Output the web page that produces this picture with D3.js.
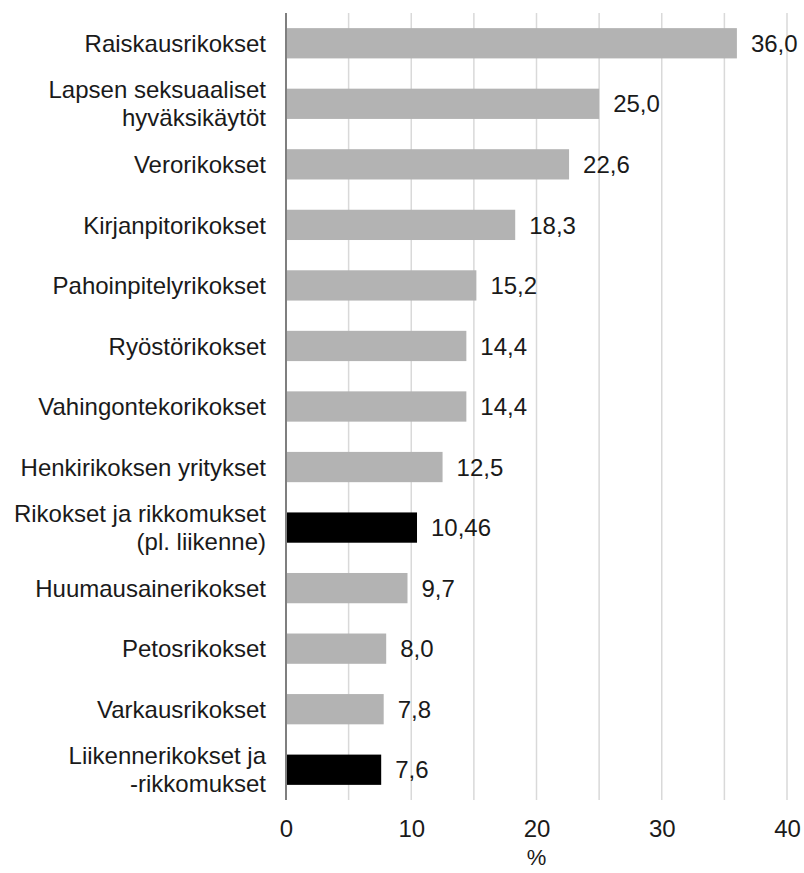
<!DOCTYPE html>
<html><head><meta charset="utf-8">
<script src="https://cdn.jsdelivr.net/npm/d3@7"></script>
<style>body{margin:0;background:#fff}</style>
</head><body>
<svg id="c" width="804" height="873"></svg>
<script>
const categories = [
  ["Raiskausrikokset"],
  ["Lapsen seksuaaliset","hyväksikäytöt"],
  ["Verorikokset"],
  ["Kirjanpitorikokset"],
  ["Pahoinpitelyrikokset"],
  ["Ryöstörikokset"],
  ["Vahingontekorikokset"],
  ["Henkirikoksen yritykset"],
  ["Rikokset ja rikkomukset","(pl. liikenne)"],
  ["Huumausainerikokset"],
  ["Petosrikokset"],
  ["Varkausrikokset"],
  ["Liikennerikokset ja","-rikkomukset"]
];
const values = [36.0, 25.0, 22.6, 18.3, 15.2, 14.4, 14.4, 12.5, 10.46, 9.7, 8.0, 7.8, 7.6];
const valueLabels = ["36,0","25,0","22,6","18,3","15,2","14,4","14,4","12,5","10,46","9,7","8,0","7,8","7,6"];
const highlighted = [false,false,false,false,false,false,false,false,true,false,false,false,true];
const xTicks = [0,10,20,30,40];
const gridTicks = [5,10,15,20,25,30,35,40];
const xTitle = "%";

const svg = d3.select("#c");
const font = "'Liberation Sans', Arial, sans-serif";
const fs = 24;
const x = d3.scaleLinear().domain([0,40]).range([286,787]);
const y = d3.scaleBand().domain(d3.range(categories.length)).range([13,800]).paddingInner(0.5).paddingOuter(0.25);

// grid
svg.append("g").selectAll("line").data(gridTicks).join("line")
  .attr("x1",d=>x(d)).attr("x2",d=>x(d)).attr("y1",13).attr("y2",800)
  .attr("stroke","#d9d9d9").attr("stroke-width",1.5);

// bars
svg.append("g").selectAll("rect").data(values).join("rect")
  .attr("x",x(0)).attr("y",(d,i)=>y(i)).attr("width",d=>x(d)-x(0)).attr("height",y.bandwidth())
  .attr("fill",(d,i)=>highlighted[i]?"#000":"#b3b3b3");

// axis line
svg.append("line").attr("x1",x(0)).attr("x2",x(0)).attr("y1",13).attr("y2",800)
  .attr("stroke","#7f7f7f").attr("stroke-width",2);

// value labels
svg.append("g").selectAll("text").data(values).join("text")
  .attr("x",d=>x(d)+14).attr("y",(d,i)=>y(i)+y.bandwidth()/2)
  .attr("dy","0.36em").attr("font-family",font).attr("font-size",fs).attr("fill","#1a1a1a")
  .text((d,i)=>valueLabels[i]);

// category labels
const cl = svg.append("g").selectAll("text").data(categories).join("text")
  .attr("x",266).attr("y",(d,i)=>y(i)+y.bandwidth()/2)
  .attr("text-anchor","end").attr("font-family",font).attr("font-size",fs).attr("fill","#1a1a1a");
cl.each(function(d){
  const t = d3.select(this);
  const n = d.length, lh = 28;
  d.forEach((s,k)=>{
    t.append("tspan").attr("x",266).attr("dy", k===0 ? (0.36*fs - (n-1)*lh/2)+"px" : lh+"px").text(s);
  });
});

// x axis
const xAxis = d3.axisBottom(x).tickValues(xTicks).tickSize(0).tickPadding(0).tickFormat(d3.format("d"));
const ga = svg.append("g").attr("transform","translate(0,820)").call(xAxis);
ga.select(".domain").remove();
ga.selectAll("text").attr("font-family",font).attr("font-size",fs).attr("fill","#1a1a1a").attr("dy","0.71em");

svg.append("text").attr("x",(x(0)+x(40))/2).attr("y",857).attr("dy","0.36em")
  .attr("text-anchor","middle").attr("font-family",font).attr("font-size",22).attr("fill","#1a1a1a").text(xTitle);
</script>
</body></html>
